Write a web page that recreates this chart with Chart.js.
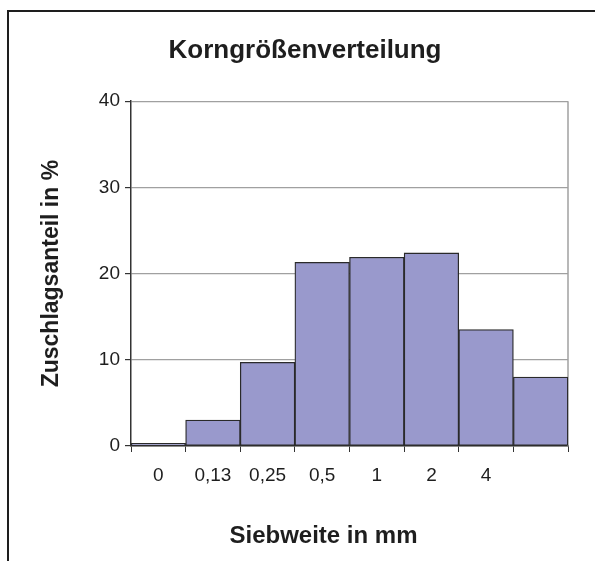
<!DOCTYPE html>
<html>
<head>
<meta charset="utf-8">
<script src="https://cdn.jsdelivr.net/npm/chart.js@4"></script>
<style>
  body { margin: 0; background: #fff; }
  #wrap { position: relative; width: 595px; height: 561px; overflow: hidden; }
  /* outer frame, only left and top edges are visible in the picture */
  #frame { position: absolute; left: 7px; top: 10px; width: 700px; height: 700px;
           border-left: 2px solid #1e1e1e; border-top: 2px solid #1e1e1e; }
  canvas { position: absolute; left: 0; top: 0; }
</style>
</head>
<body>
<div id="wrap">
  <div id="frame"></div>
  <canvas id="chart" width="595" height="561"></canvas>
</div>
<script>
// sieve sizes (mm) and share of aggregate per fraction (%)
const sieveLabels = ['0', '0,13', '0,25', '0,5', '1', '2', '4', ''];
const shares = [0.3, 3.0, 9.7, 21.3, 21.9, 22.4, 13.5, 8.0];
const xTitle = 'Siebweite in mm';

const fontFamily = "'Liberation Sans', Arial, sans-serif";
const textColor = '#1e1e1e';

// grey right border of the plot area + x axis title (sits left of centre in the original)
const extras = {
  id: 'extras',
  beforeDatasetsDraw(chart) {
    const { ctx, chartArea } = chart;
    ctx.save();
    ctx.strokeStyle = '#a0a0a0';
    ctx.lineWidth = 1.5;
    ctx.beginPath();
    ctx.moveTo(chartArea.right, chartArea.top);
    ctx.lineTo(chartArea.right, chartArea.bottom);
    ctx.stroke();
    ctx.restore();
  },
  afterDraw(chart) {
    const { ctx, chartArea } = chart;
    ctx.save();
    ctx.fillStyle = textColor;
    ctx.font = 'bold 24px ' + fontFamily;
    ctx.textAlign = 'center';
    ctx.textBaseline = 'middle';
    ctx.fillText(xTitle, (chartArea.left + chartArea.right) / 2 - 26, chartArea.bottom + 90);
    ctx.restore();
  }
};

const ctx = document.getElementById('chart').getContext('2d');
new Chart(ctx, {
  type: 'bar',
  data: {
    labels: sieveLabels,
    datasets: [{
      label: 'Zuschlagsanteil',
      data: shares,
      backgroundColor: '#9999cc',
      borderColor: '#2a2a2a',
      borderWidth: 1.3,
      borderSkipped: false,
      categoryPercentage: 1.0,
      barPercentage: 1.0
    }]
  },
  options: {
    responsive: false,
    animation: false,
    layout: { padding: { left: 42, right: 27, top: 0, bottom: 0 } },
    plugins: {
      legend: { display: false },
      tooltip: { enabled: false },
      title: {
        display: true,
        text: 'Korngrößenverteilung',
        color: textColor,
        font: { family: fontFamily, size: 26, weight: 'bold' },
        padding: { top: 35, bottom: 35 }
      }
    },
    scales: {
      x: {
        grid: {
          drawOnChartArea: false,
          drawTicks: true,
          tickLength: 6,
          tickColor: '#333',
          offset: true
        },
        border: { color: '#333', width: 1.5 },
        ticks: {
          color: textColor,
          font: { family: fontFamily, size: 19 },
          padding: 12,
          maxRotation: 0,
          autoSkip: false
        },
        afterFit(scale) { scale.height = 115; }
      },
      y: {
        min: 0,
        max: 40,
        ticks: {
          stepSize: 10,
          color: textColor,
          font: { family: fontFamily, size: 19 },
          padding: 5
        },
        grid: {
          color: '#a0a0a0',
          lineWidth: 1.2,
          tickLength: 6,
          tickColor: '#333'
        },
        border: { color: '#333', width: 1.5 },
        title: {
          display: true,
          text: 'Zuschlagsanteil in %',
          color: textColor,
          font: { family: fontFamily, size: 23, weight: 'bold' },
          padding: { top: -4 }
        },
        afterFit(scale) { scale.width = 89; }
      }
    }
  },
  plugins: [extras]
});
</script>
</body>
</html>
